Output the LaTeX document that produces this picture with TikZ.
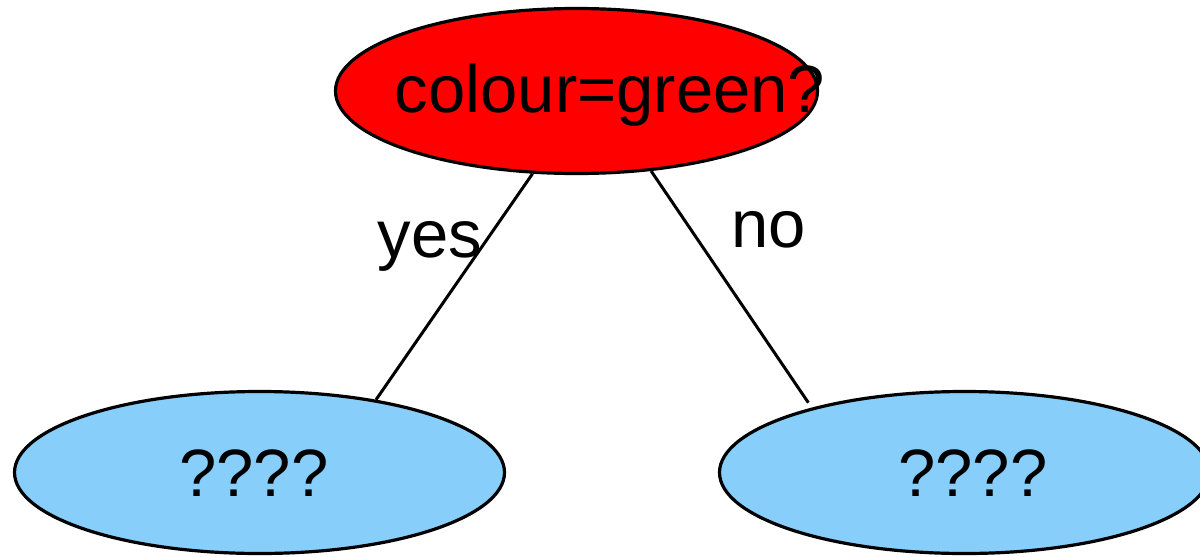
\documentclass[tikz,border=0pt]{standalone}
\usepackage{fontspec}
\setmainfont{Liberation Sans}
\usetikzlibrary{shapes.geometric}
\definecolor{nodered}{RGB}{255,0,0}
\definecolor{nodeblue}{RGB}{135,206,250}
\tikzset{
  ell/.style={ellipse, draw=black, line width=3.2pt, inner sep=0pt},
  topell/.style={ell, fill=nodered, minimum width=482pt, minimum height=165pt},
  leafell/.style={ell, fill=nodeblue, minimum width=490pt, minimum height=162pt},
  txt/.style={font=\fontsize{67}{80}\selectfont, inner sep=0pt, anchor=base},
  edge/.style={line width=3pt}
}
\begin{document}
\begin{tikzpicture}[x=1pt,y=-1pt]
\useasboundingbox (0,0) rectangle (1200,557);
\node[topell] (root) at (576.5,91) {};
\node[leafell] (left) at (259.5,472.5) {};
\node[leafell] (right) at (964.5,472.5) {};
\node[txt] (roottxt) at (610,112) {colour=green?};
\node[txt] (lefttxt) at (254,496) {????};
\node[txt] (righttxt) at (973,496) {????};
\draw[edge] (root.242.6) -- (left.32.2);
\draw[edge, shorten >=6pt] (root.313) -- (right.157.3);
\node[txt] (yes) at (430,257) {yes};
\node[txt] (no) at (768.5,247) {no};
\end{tikzpicture}
\end{document}
